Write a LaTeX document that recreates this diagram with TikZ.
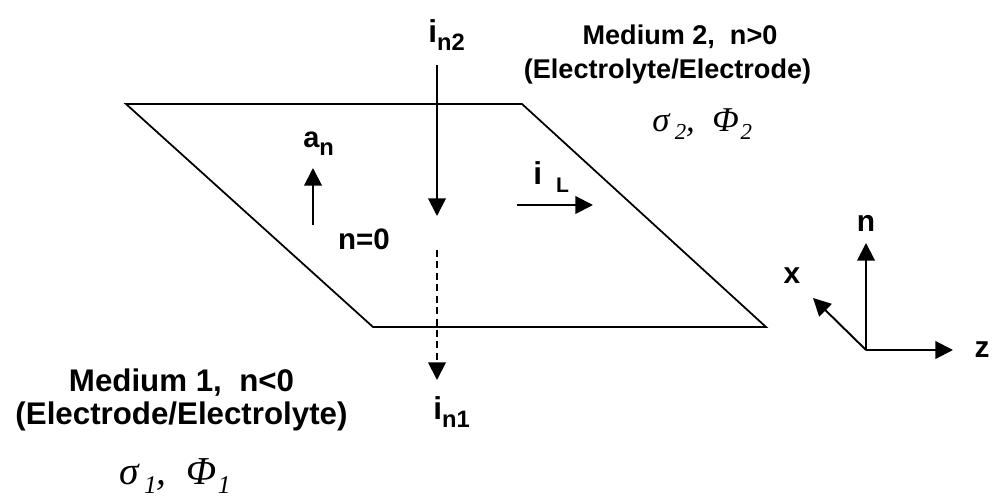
\documentclass[tikz,border=0pt]{standalone}
\usepackage{fontspec}
\setmainfont{Liberation Sans}
\newfontfamily\grkfont{Liberation Serif}
\usetikzlibrary{arrows.meta,positioning}
% letter with a lowered index, as on the slide
\newcommand{\curlab}[3]{{\fontsize{#1}{#1}\selectfont #2}\raisebox{-4.5pt}{\fontsize{13.5}{13.5}\selectfont #3}}
\newcommand{\grksub}[3]{\raisebox{-#1}{\fontsize{#2}{#2}\selectfont #3}}
\tikzset{
 sheet edge/.style={line width=1pt},
 flux arrow/.style={line width=1.1pt,-{Triangle[length=10pt,width=10pt]}},
 flux dashed/.style={flux arrow,dash pattern=on 4pt off 2.5pt},
 sheet label/.style={font=\bfseries,inner sep=0pt},
 axis label/.style={font=\fontsize{17}{17}\selectfont\bfseries,inner sep=0pt},
 medium label/.style={font=\fontsize{15.4}{18}\selectfont\bfseries,inner sep=0pt},
 medium big/.style={font=\fontsize{17.8}{20}\selectfont\bfseries,inner sep=0pt},
 prop label/.style={font=\fontsize{19.8}{21}\selectfont\grkfont\itshape,inner sep=0pt,anchor=base west}
}

\begin{document}
\begin{tikzpicture}
 \useasboundingbox (0,0) rectangle (19.86,9.96);
 % interface sheet n=0
 \coordinate (c1) at (2.52,7.88);
 \coordinate (c2) at (10.44,7.88);
 \coordinate (c3) at (15.32,3.42);
 \coordinate (c4) at (7.46,3.42);
 \draw[sheet edge] (c1)--(c2)--(c3)--(c4)--cycle;

 % normal currents
 \coordinate (in2 top) at (8.74,8.66);
 \coordinate (in2 tip) at (8.74,5.64);
 \coordinate (in1 top) at (8.74,4.96);
 \coordinate (in1 tip) at (8.74,2.36);
 \draw[flux arrow] (in2 top)--(in2 tip);
 \draw[flux dashed] (in1 top)--(in1 tip);
 \node[sheet label,anchor=base west] (in2) at (8.56,9.10) {\curlab{18}{i}{n2}};
 \node[sheet label,anchor=base west] (in1) at (8.66,1.56) {\curlab{18}{i}{n1}};

 % normal vector and lateral current
 \coordinate (an foot) at (6.26,5.46);
 \coordinate (an tip) at (6.26,6.60);
 \coordinate (iL foot) at (10.34,5.86);
 \coordinate (iL tip) at (11.86,5.86);
 \draw[flux arrow] (an foot)--(an tip);
 \draw[flux arrow] (iL foot)--(iL tip);
 \node[sheet label,anchor=base west] (an) at (6.06,7.00) {\curlab{16.5}{a}{n}};
 \node[sheet label,anchor=base west] (iL) at (10.66,6.26)
   {{\fontsize{18}{18}\selectfont i}\hspace{8pt}\raisebox{-4pt}{\fontsize{12}{12}\selectfont L}};
 \node[sheet label,font=\fontsize{16.8}{17}\selectfont\bfseries,anchor=base] (n0) at (7.28,4.96) {n=0};

 % media
 \node[medium label] (med2a) at (13.60,9.22) {Medium 2,\ \ n>0};
 \node[medium label] (med2b) at (13.35,8.52) {(Electrolyte/Electrode)};
 \node[prop label] (prop2) at (13.04,7.32)
   {σ\hspace{3pt}\grksub{4.5pt}{13}{2},\hspace{10pt}Φ\hspace{1pt}\grksub{4.5pt}{13}{2}};
 \node[medium big] (med1a) at (3.63,2.30) {Medium 1,\ \ n<0};
 \node[medium big] (med1b) at (3.63,1.64) {(Electrode/Electrolyte)};
 \node[prop label,font=\fontsize{22.5}{23}\selectfont\grkfont\itshape] (prop1) at (2.38,0.26)
   {σ\hspace{3pt}\grksub{5pt}{14.5}{1},\hspace{11pt}Φ\hspace{1pt}\grksub{5pt}{14.5}{1}};

 % local frame
 \coordinate (o) at (17.32,2.96);
 \foreach \ax/\tip/\lab in {n/{17.32,5.10}/{17.32,5.50},
                            z/{19.06,2.96}/{19.64,2.96},
                            x/{16.26,4.00}/{15.84,4.44}}{
   \coordinate (\ax tip) at (\tip);
   \draw[flux arrow] (o)--(\ax tip);
   \node[axis label] (\ax) at (\lab) {\ax};
 }
\end{tikzpicture}
\end{document}
